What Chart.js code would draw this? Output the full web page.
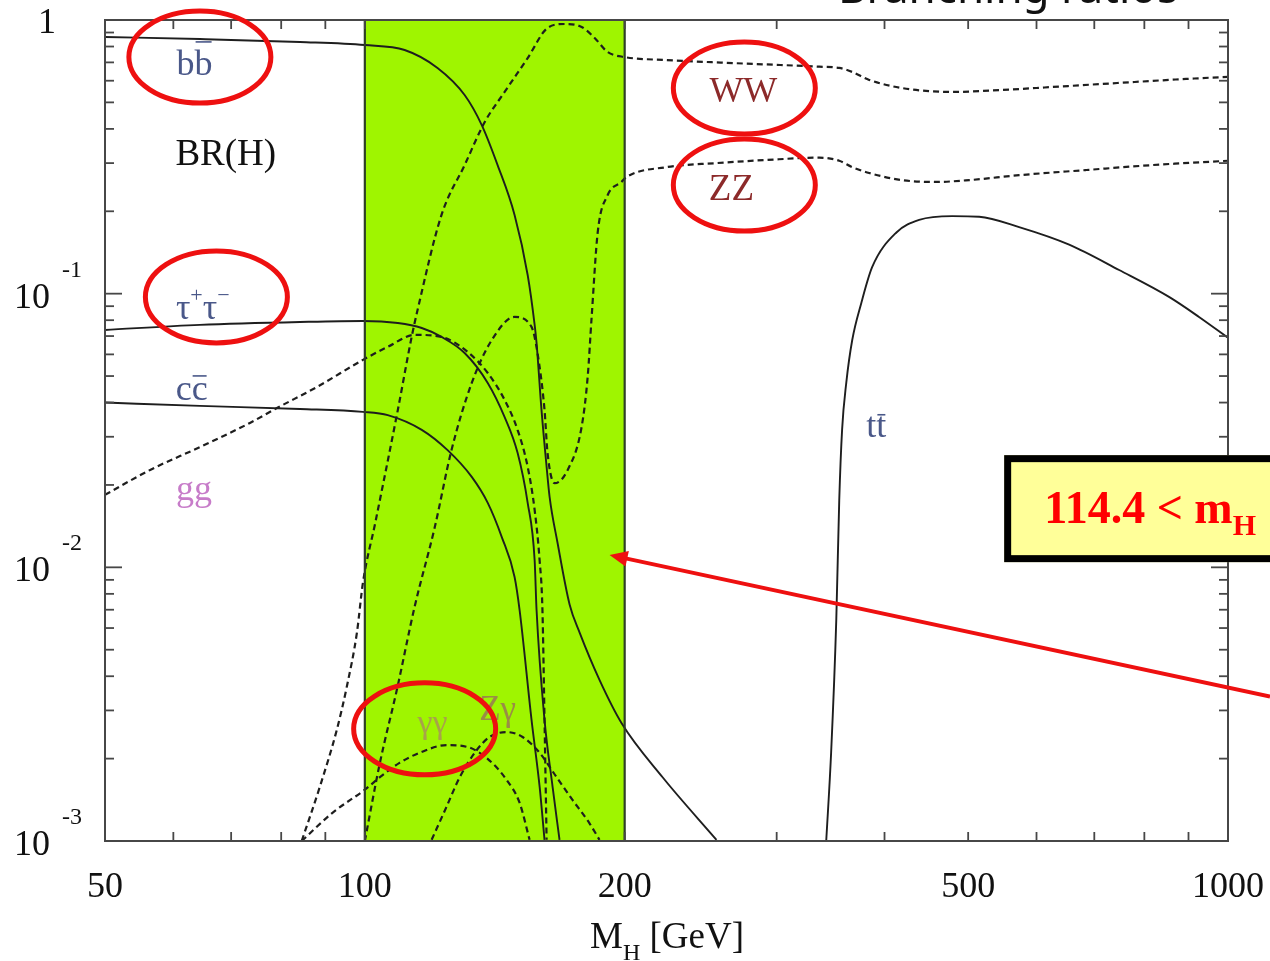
<!DOCTYPE html>
<html>
<head>
<meta charset="utf-8">
<title>BR(H)</title>
<script src="https://cdn.jsdelivr.net/npm/chart.js@4.4.1/dist/chart.umd.min.js"></script>
<style>
    body{ margin:0; background:#fff; }
    canvas{ display:block; }
</style>
</head>
<body>
<canvas id="brChart" width="1270" height="961"></canvas>
<script>

// Higgs branching ratios against M_H (GeV)

const bbMass = [50, 64.4, 84.1, 100, 111.2, 121.4, 130.5, 136.6, 142.5, 149.1, 154.4, 157.3, 158.1, 160.2, 162.4, 163.7, 167.2, 172.7, 177.4, 187, 198.3, 221.3, 255.5];
const bbRatio = [0.867, 0.852, 0.831, 0.81, 0.777, 0.668, 0.532, 0.413, 0.295, 0.194, 0.117, 0.0769, 0.0661, 0.0376, 0.0233, 0.0181, 0.0123, 0.0073, 0.00576, 0.00388, 0.0027, 0.00171, 0.00101];

const tauMass = [50, 64.4, 84.1, 99.5, 109.2, 116.4, 122.7, 130.5, 138.8, 145.2, 150.3, 154.4, 157.3, 158.1, 161.5, 165, 168.1];
const tauRatio = [0.0737, 0.0769, 0.0788, 0.0795, 0.0781, 0.0749, 0.0695, 0.0607, 0.0472, 0.0354, 0.0262, 0.0172, 0.0106, 0.007, 0.00277, 0.00158, 0.00101];

const ccMass = [50, 64.4, 84.1, 99.5, 106.3, 116.4, 124.7, 133, 138.8, 144.1, 149.1, 151.1, 156, 159.4, 161.5];
const ccRatio = [0.04, 0.0389, 0.0379, 0.037, 0.036, 0.0318, 0.0268, 0.0214, 0.0172, 0.0129, 0.00922, 0.00699, 0.00277, 0.00158, 0.00101];

const ggMass = [50, 56.4, 64.4, 73.6, 79.1, 88, 99.5, 106.3, 114.2, 122.7, 131.6, 138.8, 145.2, 150.3, 154.4, 157.3, 159.4, 160.6, 161.5, 162.4];
const ggRatio = [0.0184, 0.0227, 0.0275, 0.0337, 0.0382, 0.0456, 0.0573, 0.0639, 0.0707, 0.0695, 0.0612, 0.0513, 0.0409, 0.0318, 0.0233, 0.0162, 0.0106, 0.007, 0.00277, 0.00101];

const wwMass = [84.5, 88.7, 92.8, 95.3, 97.9, 99.5, 102.8, 109.2, 113.3, 115.1, 122.7, 130.5, 137.7, 145.2, 154.4, 162.8, 170.4, 178.3, 184.6, 191.1, 200, 223.7, 266.7, 336.1, 354.5, 367, 384, 419.2, 479.1, 547.5, 625.6, 747.9, 894.1, 1000];
const wwRatio = [0.001, 0.00158, 0.00255, 0.00366, 0.00576, 0.0088, 0.0145, 0.0376, 0.0695, 0.0872, 0.194, 0.295, 0.424, 0.546, 0.726, 0.935, 0.967, 0.943, 0.86, 0.764, 0.732, 0.714, 0.696, 0.675, 0.668, 0.646, 0.604, 0.564, 0.546, 0.555, 0.569, 0.589, 0.609, 0.62];

const zzMass = [100, 104.1, 108.9, 114.2, 120.5, 126, 133, 140.3, 149.1, 156, 158.5, 161.5, 162.8, 165.9, 171.8, 178.3, 181.2, 183.1, 186.1, 191.1, 198.3, 201, 223.7, 255.5, 291.9, 336.1, 354.5, 367, 384, 419.2, 459.1, 501.4, 572.8, 684.9, 816.6, 1000];
const zzRatio = [0.001, 0.00193, 0.00356, 0.00717, 0.014, 0.0268, 0.0472, 0.0677, 0.0822, 0.0756, 0.0607, 0.0376, 0.0262, 0.0203, 0.0227, 0.0326, 0.0496, 0.0815, 0.167, 0.229, 0.256, 0.267, 0.29, 0.3, 0.308, 0.314, 0.306, 0.29, 0.276, 0.26, 0.256, 0.26, 0.271, 0.283, 0.295, 0.306];

const gamMass = [84.5, 91.8, 100, 104.1, 109.7, 115.7, 124.3, 131.2, 138.4, 146, 151.1, 155.2];
const gamRatio = [0.001, 0.00127, 0.00154, 0.00171, 0.00193, 0.0021, 0.00224, 0.00221, 0.00201, 0.00167, 0.00138, 0.00101];

const zgMass = [119.5, 124.3, 128.8, 134.8, 139.5, 146, 152.3, 159.4, 166.8, 174.1, 182.1, 187];
const zgRatio = [0.00101, 0.00133, 0.00171, 0.00215, 0.0024, 0.0025, 0.0024, 0.0021, 0.00171, 0.00141, 0.00116, 0.00101];

const ttMass = [342.4, 346.9, 351.7, 354.5, 357.2, 361.2, 367, 376, 387, 412.6, 438.7, 479.1, 514.9, 572.8, 654.6, 747.9, 854.4, 925.6, 1000];
const ttRatio = [0.001, 0.0021, 0.00642, 0.0176, 0.0318, 0.0472, 0.0677, 0.0925, 0.125, 0.167, 0.186, 0.192, 0.191, 0.175, 0.151, 0.122, 0.0973, 0.0822, 0.069];

// axis ticks
const xLabelTicks = [50, 100, 200, 500, 1000];
const xMinorTicks = [60, 70, 80, 90, 100, 200, 300, 400, 500, 600, 700, 800, 900];
const yDecades = [1, 0.1, 0.01, 0.001];

// allowed mass window
const bandFrom = 100;
const bandTo = 200;

const serif = '"Liberation Serif", "Times New Roman", serif';
const blueInk = "#4a5889";
const redInk = "#8c2a2a";

// curve names, placed in (mass, BR)
const curveTags = [
    { m: 63.5, br: 0.63, size: 36, color: blueInk, pieces: [{ t: "b" }, { t: "b", bar: 33 }] },
    { m: 69.0, br: 0.295, size: 37, color: "#111", pieces: [{ t: "BR(H)" }] },
    { m: 64.9, br: 0.0808, size: 36, color: blueInk, pieces: [{ t: "τ" }, { t: "+", size: 22, dy: -17 }, { t: "τ" }, { t: "−", size: 22, dy: -17 }] },
    { m: 63.0, br: 0.0409, size: 36, color: blueInk, pieces: [{ t: "c" }, { t: "c", bar: 24 }] },
    { m: 63.4, br: 0.0176, size: 36, color: "#c77cc9", pieces: [{ t: "gg" }] },
    { m: 274.5, br: 0.502, size: 36, color: redInk, pieces: [{ t: "WW" }] },
    { m: 265.9, br: 0.22, size: 37, color: redInk, pieces: [{ t: "ZZ" }] },
    { m: 391.4, br: 0.030, size: 36, color: blueInk, pieces: [{ t: "t" }, { t: "t", bar: 22 }] },
    { m: 119.8, br: 0.00248, size: 34, color: "#a8a24a", pieces: [{ t: "γγ" }] },
    { m: 142.5, br: 0.00277, size: 35, color: "#9a8c46", pieces: [{ t: "Zγ" }] }
];

// red rings round the highlighted channels
const rings = [
    { m: 64.4, br: 0.732 },
    { m: 67.3, br: 0.0973 },
    { m: 275.2, br: 0.564 },
    { m: 275.2, br: 0.2495 },
    { m: 117.3, br: 0.00257 }
];

// note box and arrow
const noteAt = { m: 550.4, br: 0.0257 };
const arrowTip = { m: 192.1, br: 0.0111 };

function points(mass, ratio){
    return mass.map(function(m, i){
        return { x: m, y: ratio[i] };
    });
}

function curve(mass, ratio, dashed){
    return {
        data: points(mass, ratio),
        borderColor: "#1e1e1e",
        borderWidth: dashed ? 2.2 : 1.9,
        borderDash: dashed ? [6, 4] : [],
        pointRadius: 0,
        fill: false,
        cubicInterpolationMode: "monotone"
    };
}

function line(ctx, x1, y1, x2, y2){
    ctx.beginPath();
    ctx.moveTo(x1, y1);
    ctx.lineTo(x2, y2);
    ctx.stroke();
}

// text made of pieces: optional size, baseline shift, overbar
function rich(ctx, pieces, x, base, size, color, align, bold){
    const weight = bold ? "bold " : "";
    const widths = pieces.map(function(p){
        ctx.font = weight + (p.size || size) + "px " + serif;
        return ctx.measureText(p.t).width;
    });
    const total = widths.reduce(function(a, b){ return a + b; }, 0);
    let px = x;
    if(align === "center") px = x - total / 2;
    if(align === "right") px = x - total;

    ctx.fillStyle = color;
    ctx.strokeStyle = color;
    ctx.textAlign = "left";
    ctx.textBaseline = "alphabetic";
    pieces.forEach(function(p, i){
        ctx.font = weight + (p.size || size) + "px " + serif;
        ctx.fillText(p.t, px, base + (p.dy || 0));
        if(p.bar){
            ctx.lineWidth = 1.6;
            line(ctx, px + 1, base - p.bar, px + widths[i] - 1, base - p.bar);
        }
        px += widths[i];
    });
}

const decor = {

    id: "decor",

    beforeDraw(chart){
        const ctx = chart.ctx;
        ctx.save();
        ctx.fillStyle = "#ffffff";
        ctx.fillRect(0, 0, chart.width, chart.height);
        ctx.restore();
    },

    beforeDatasetsDraw(chart){
        const ctx = chart.ctx;
        const area = chart.chartArea;
        const x = chart.scales.x;
        const x1 = x.getPixelForValue(bandFrom);
        const x2 = x.getPixelForValue(bandTo);
        ctx.save();
        ctx.fillStyle = "#9ff500";
        ctx.fillRect(x1, area.top, x2 - x1, area.bottom - area.top);
        ctx.restore();
    },

    afterDatasetsDraw(chart){
        const ctx = chart.ctx;
        const area = chart.chartArea;
        const x = chart.scales.x;
        const y = chart.scales.y;

        ctx.save();

        // band edges
        ctx.strokeStyle = "#2e3f27";
        ctx.lineWidth = 2.2;
        [bandFrom, bandTo].forEach(function(m){
            const px = x.getPixelForValue(m);
            line(ctx, px, area.top, px, area.bottom);
        });

        // frame
        ctx.strokeStyle = "#474747";
        ctx.lineWidth = 2;
        ctx.strokeRect(area.left, area.top, area.right - area.left, area.bottom - area.top);

        // x ticks, top and bottom, pointing in
        ctx.lineWidth = 1.8;
        xMinorTicks.forEach(function(m){
            const px = x.getPixelForValue(m);
            line(ctx, px, area.bottom, px, area.bottom - 9);
            line(ctx, px, area.top, px, area.top + 9);
        });

        // y ticks, left and right
        yDecades.forEach(function(d){
            const py = y.getPixelForValue(d);
            line(ctx, area.left, py, area.left + 17, py);
            line(ctx, area.right, py, area.right - 17, py);
            if(d >= 1) return;
            for(let k = 2; k <= 9; k++){
                const pm = y.getPixelForValue(d * k);
                line(ctx, area.left, pm, area.left + 9, pm);
                line(ctx, area.right, pm, area.right - 9, pm);
            }
        });

        // y tick labels
        yDecades.forEach(function(d){
            const py = y.getPixelForValue(d);
            const exp = Math.round(Math.log10(d));
            if(exp === 0){
                rich(ctx, [{ t: "1" }], area.left - 49, py + 13, 36, "#111", "right");
                return;
            }
            rich(ctx, [{ t: "10" }], area.left - 55, py + 14, 36, "#111", "right");
            rich(ctx, [{ t: String(exp) }], area.left - 43, py - 17, 24, "#111", "left");
        });

        // x tick labels
        xLabelTicks.forEach(function(m){
            rich(ctx, [{ t: String(m) }], x.getPixelForValue(m), area.bottom + 56, 36, "#111", "center");
        });

        // x axis title
        rich(ctx, [{ t: "M" }, { t: "H", size: 24, dy: 12 }, { t: " [GeV]" }],
            (area.left + area.right) / 2 + 0.5, area.bottom + 107, 37, "#111", "center");

        // curve names
        curveTags.forEach(function(tag){
            rich(ctx, tag.pieces, x.getPixelForValue(tag.m), y.getPixelForValue(tag.br),
                tag.size, tag.color, "center");
        });

        // rings
        ctx.strokeStyle = "#ee1010";
        ctx.lineWidth = 5;
        rings.forEach(function(r){
            ctx.beginPath();
            ctx.ellipse(x.getPixelForValue(r.m), y.getPixelForValue(r.br), 71, 46, 0, 0, Math.PI * 2);
            ctx.stroke();
        });

        // note box
        const bx = x.getPixelForValue(noteAt.m);
        const by = y.getPixelForValue(noteAt.br);
        ctx.fillStyle = "#ffff99";
        ctx.fillRect(bx, by, 300, 107);
        ctx.strokeStyle = "#000";
        ctx.lineWidth = 7;
        ctx.strokeRect(bx + 3.5, by + 3.5, 300, 100);
        rich(ctx, [{ t: "114.4 < m" }, { t: "H", size: 30, dy: 12 }],
            bx + 40, by + 68, 46, "#ff0000", "left", true);

        // arrow into the band
        const tx = x.getPixelForValue(arrowTip.m);
        const ty = y.getPixelForValue(arrowTip.br);
        const tailX = chart.width;
        const tailY = ty + (tailX - tx) * 0.2145;
        const ang = Math.atan2(tailY - ty, tailX - tx);
        ctx.strokeStyle = "#ee1010";
        ctx.fillStyle = "#ee1010";
        ctx.lineWidth = 4;
        line(ctx, tx + 14 * Math.cos(ang), ty + 14 * Math.sin(ang), tailX, tailY);
        ctx.beginPath();
        ctx.moveTo(tx, ty);
        ctx.lineTo(tx + 18 * Math.cos(ang) - 8 * Math.sin(ang), ty + 18 * Math.sin(ang) + 8 * Math.cos(ang));
        ctx.lineTo(tx + 18 * Math.cos(ang) + 8 * Math.sin(ang), ty + 18 * Math.sin(ang) - 8 * Math.cos(ang));
        ctx.closePath();
        ctx.fill();

        // slide heading, cut at the top edge
        ctx.font = '44px "Noto Sans", "Open Sans", sans-serif';
        ctx.fillStyle = "#111";
        ctx.textAlign = "left";
        ctx.textBaseline = "alphabetic";
        ctx.fillText("Branching ratios", 838, 3);

        ctx.restore();
    }
};

new Chart(

    document.getElementById("brChart"),

    {
        type: "line",

        data: {
            datasets: [
                curve(bbMass, bbRatio, false),
                curve(tauMass, tauRatio, false),
                curve(ccMass, ccRatio, false),
                curve(ttMass, ttRatio, false),
                curve(ggMass, ggRatio, true),
                curve(wwMass, wwRatio, true),
                curve(zzMass, zzRatio, true),
                curve(gamMass, gamRatio, true),
                curve(zgMass, zgRatio, true)
            ]
        },

        options: {
            responsive: false,
            devicePixelRatio: 1,
            animation: false,
            layout: {
                padding: { left: 105, right: 42, top: 20, bottom: 120 }
            },
            plugins: {
                legend: { display: false },
                tooltip: { enabled: false }
            },
            scales: {
                x: {
                    type: "logarithmic",
                    min: 50,
                    max: 1000,
                    display: false
                },
                y: {
                    type: "logarithmic",
                    min: 0.001,
                    max: 1,
                    display: false
                }
            }
        },

        plugins: [decor]
    }
);
</script>
</body>
</html>
